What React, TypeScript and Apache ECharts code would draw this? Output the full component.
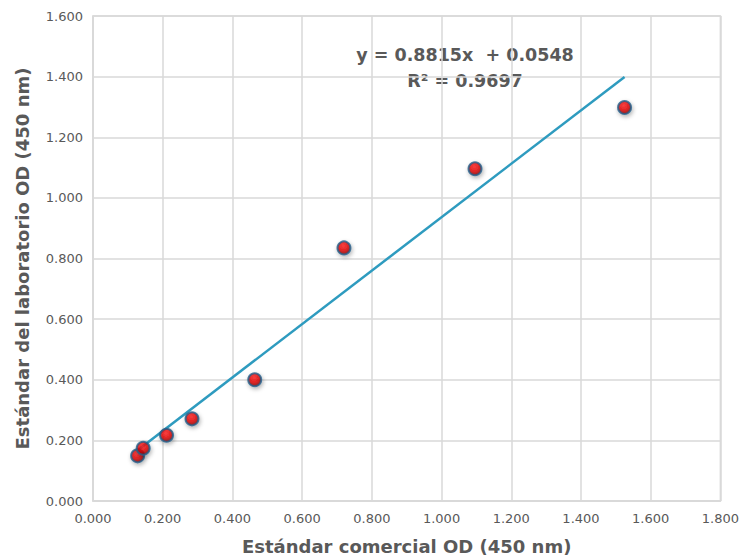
import React, { useEffect, useRef } from "react";
import * as echarts from "echarts";

const comercialOD = [0.128, 0.144, 0.211, 0.284, 0.464, 0.72, 1.096, 1.525];
const laboratorioOD = [0.149, 0.174, 0.217, 0.271, 0.4, 0.835, 1.096, 1.298];
const trendX = [0.128, 1.525];
const trendY = [0.1676, 1.3991];
const equationText = "y = 0.8815x  + 0.0548";
const r2Text = "R² = 0.9697";
const xAxisTitle = "Estándar comercial OD (450 nm)";
const yAxisTitle = "Estándar del laboratorio OD (450 nm)";

const FONT = "'DejaVu Sans', sans-serif";
const GREY = "#595959";

export default function App() {
  const ref = useRef<HTMLDivElement>(null);
  useEffect(() => {
    if (!ref.current) return;
    const chart = echarts.init(ref.current, undefined, { renderer: "svg" });
    const points = comercialOD.map((x, i) => [x, laboratorioOD[i]]);
    const trend = trendX.map((x, i) => [x, trendY[i]]);
    chart.setOption({
      animation: false,
      backgroundColor: "#ffffff",
      textStyle: { fontFamily: FONT },
      grid: {
        left: 93,
        top: 16,
        width: 630,
        height: 485,
        show: true,
        borderColor: "#d9d9d9",
        borderWidth: 1.5,
      },
      xAxis: {
        type: "value",
        min: 0,
        max: 1.8,
        interval: 0.2,
        name: xAxisTitle,
        nameLocation: "middle",
        nameGap: 36,
        nameTextStyle: { fontSize: 18, fontWeight: "bold", color: GREY, fontFamily: FONT },
        axisLine: { show: true, lineStyle: { color: "#d9d9d9", width: 1.5 } },
        axisTick: { show: false },
        splitLine: { show: true, lineStyle: { color: "#d9d9d9", width: 1.5 } },
        axisLabel: {
          color: GREY,
          fontSize: 13,
          margin: 11,
          fontFamily: FONT,
          formatter: (v: number) => v.toFixed(3),
        },
      },
      yAxis: {
        type: "value",
        min: 0,
        max: 1.6,
        interval: 0.2,
        name: yAxisTitle,
        nameLocation: "middle",
        nameGap: 62,
        nameRotate: 90,
        nameTextStyle: { fontSize: 18, fontWeight: "bold", color: GREY, fontFamily: FONT },
        axisLine: { show: true, lineStyle: { color: "#d9d9d9", width: 1.5 } },
        axisTick: { show: false },
        splitLine: { show: true, lineStyle: { color: "#d9d9d9", width: 1.5 } },
        axisLabel: {
          color: GREY,
          fontSize: 13,
          margin: 10,
          fontFamily: FONT,
          formatter: (v: number) => v.toFixed(3),
        },
      },
      series: [
        {
          type: "line",
          data: trend,
          symbol: "none",
          lineStyle: { color: "#2e9bbf", width: 2.5 },
          z: 2,
        },
        {
          type: "scatter",
          data: points,
          symbol: "circle",
          symbolSize: 13,
          itemStyle: {
            color: {
              type: "radial",
              x: 0.45,
              y: 0.35,
              r: 0.6,
              colorStops: [
                { offset: 0, color: "#ff2020" },
                { offset: 0.6, color: "#e00000" },
                { offset: 1, color: "#900000" },
              ],
            },
            borderColor: "#245f8a",
            borderWidth: 2,
            shadowColor: "rgba(0,0,0,0.35)",
            shadowBlur: 4,
            shadowOffsetX: 1,
            shadowOffsetY: 2,
          },
          z: 3,
        },
      ],
      graphic: [
        {
          type: "text",
          x: 465,
          y: 55,
          style: {
            text: equationText,
            fontSize: 17.5,
            fontWeight: "bold",
            fill: GREY,
            fontFamily: FONT,
            align: "center",
            verticalAlign: "middle",
          },
        },
        {
          type: "text",
          x: 465,
          y: 81,
          style: {
            text: r2Text,
            fontSize: 17.5,
            fontWeight: "bold",
            fill: GREY,
            fontFamily: FONT,
            align: "center",
            verticalAlign: "middle",
          },
        },
      ],
    });
    return () => chart.dispose();
  }, []);
  return <div ref={ref} style={{ width: 742, height: 560, position: "absolute", left: 0, top: 0 }} />;
}
